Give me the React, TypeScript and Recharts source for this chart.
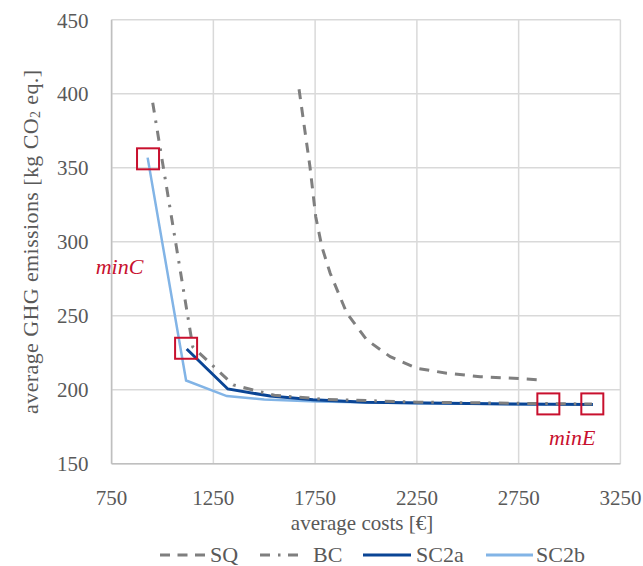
import React from "react";
import {
  ComposedChart,
  Line,
  Scatter,
  XAxis,
  YAxis,
  CartesianGrid,
  Legend,
  ReferenceDot,
} from "recharts";

const FONT = "'Liberation Serif', 'Times New Roman', serif";
const TEXT = "#595959";

const xTicks = [750, 1250, 1750, 2250, 2750, 3250];
const yTicks = [150, 200, 250, 300, 350, 400, 450];

const sqCost = [1671, 1725, 1753, 1783, 1824, 1906, 2004, 2119, 2250, 2397, 2561, 2725, 2856];
const sqGhg = [403, 350.3, 316.9, 296.6, 278.7, 251.6, 233.6, 222.3, 214.5, 211.1, 208.8, 207.7, 206.6];

const bcCost = [952, 1149, 1348, 1550, 1800, 2250, 2750, 3110];
const bcGhg = [393.9, 228.9, 203.2, 196.2, 193.5, 191.6, 190.8, 190.3];

const sc2aCost = [1119, 1321, 1529, 1740, 2000, 2500, 2900, 3115];
const sc2aGhg = [227.5, 200.5, 195.7, 193.2, 191.6, 190.6, 190.2, 190.0];

const sc2bCost = [927, 1116, 1316, 1500, 1758, 2250, 2889];
const sc2bGhg = [356.8, 206.2, 195.7, 193.4, 192.0, 190.8, 190.1];

const markCost = [929, 1116, 2896, 3112];
const markGhg = [356, 228, 190.4, 190.4];

const zip = (xs: number[], ys: number[]) => xs.map((x, i) => ({ x, y: ys[i] }));

const sqData = zip(sqCost, sqGhg);
const bcData = zip(bcCost, bcGhg);
const sc2aData = zip(sc2aCost, sc2aGhg);
const sc2bData = zip(sc2bCost, sc2bGhg);
const markData = zip(markCost, markGhg);

const SQ_COLOR = "#7f7f7f";
const BC_COLOR = "#7f7f7f";
const SC2A_COLOR = "#0a4595";
const SC2B_COLOR = "#82b4e6";
const RED = "#c8102e";

const SquareShape = (props: any) => {
  const { cx, cy } = props;
  if (cx == null || cy == null) return null;
  return (
    <rect x={cx - 11} y={cy - 10.5} width={22} height={21} fill="none" stroke={RED} strokeWidth={2} />
  );
};

const YTitle = (props: any) => {
  const vb = props.viewBox || {};
  const cx = (vb.x ?? 0) + 22;
  const cy = (vb.y ?? 0) + (vb.height ?? 0) / 2;
  return (
    <text
      x={cx}
      y={cy}
      transform={`rotate(-90 ${cx} ${cy})`}
      textAnchor="middle"
      dominantBaseline="central"
      fill={TEXT}
      fontFamily={FONT}
      fontSize={22}
      letterSpacing={0.4}
    >
      <tspan>average GHG emissions [kg CO</tspan>
      <tspan fontSize={14} dy={5}>2</tspan>
      <tspan dy={-5}> eq.]</tspan>
    </text>
  );
};

const XTitle = (props: any) => {
  const vb = props.viewBox || {};
  const cx = (vb.x ?? 0) + (vb.width ?? 0) / 2 - 4;
  const y = (vb.y ?? 0) + 66;
  return (
    <text x={cx} y={y} textAnchor="middle" fill={TEXT} fontFamily={FONT} fontSize={21}>
      average costs [€]
    </text>
  );
};

const makeLabel = (txt: string) => (props: any) => {
  const { cx, cy } = props;
  if (cx == null || cy == null) return null;
  return (
    <text
      x={cx}
      y={cy}
      textAnchor="middle"
      dominantBaseline="central"
      fill={RED}
      fontFamily={FONT}
      fontStyle="italic"
      fontSize={22}
    >
      {txt}
    </text>
  );
};

const LegendContent = () => (
  <svg width={635} height={28} style={{ display: "block", overflow: "visible" }}>
    <line x1={152} x2={197} y1={17} y2={17} stroke={SQ_COLOR} strokeWidth={3} strokeDasharray="10 7.5" />
    <text x={202} y={24} fill={TEXT} fontFamily={FONT} fontSize={22}>SQ</text>
    <line x1={252} x2={290} y1={17} y2={17} stroke={BC_COLOR} strokeWidth={3} strokeDasharray="10 8 2.5 7.5" />
    <text x={305} y={24} fill={TEXT} fontFamily={FONT} fontSize={22}>BC</text>
    <line x1={355} x2={403} y1={17} y2={17} stroke={SC2A_COLOR} strokeWidth={3} />
    <text x={408} y={24} fill={TEXT} fontFamily={FONT} fontSize={22}>SC2a</text>
    <line x1={478} x2={525} y1={17} y2={17} stroke={SC2B_COLOR} strokeWidth={3} />
    <text x={528} y={24} fill={TEXT} fontFamily={FONT} fontSize={22}>SC2b</text>
  </svg>
);

export default function App() {
  return (
    <div style={{ padding: "8px 0 0 8px", width: 635, height: 558 }}>
      <style>{"html,body{margin:0;padding:0;overflow:hidden;}"}</style>
      <ComposedChart
        width={635}
        height={558}
        margin={{ top: 11.7, right: 22.6, left: 0, bottom: 0 }}
        style={{ fontFamily: FONT }}
      >
        <CartesianGrid stroke="#d9d9d9" strokeWidth={1.5} />
        <XAxis
          type="number"
          dataKey="x"
          domain={[750, 3250]}
          ticks={xTicks}
          allowDataOverflow
          height={102.3}
          tickSize={0}
          tickMargin={26}
          axisLine={{ stroke: "#bfbfbf", strokeWidth: 1.5 }}
          tickLine={false}
          tick={{ fill: TEXT, fontSize: 21, fontFamily: FONT }}
          label={<XTitle />}
        />
        <YAxis
          type="number"
          dataKey="y"
          domain={[150, 450]}
          ticks={yTicks}
          allowDataOverflow
          width={103.6}
          tickSize={0}
          tickMargin={23}
          axisLine={{ stroke: "#bfbfbf", strokeWidth: 1.5 }}
          tickLine={false}
          tick={{ fill: TEXT, fontSize: 21, fontFamily: FONT }}
          label={<YTitle />}
        />
        <Line
          data={sqData}
          dataKey="y"
          type="linear"
          stroke={SQ_COLOR}
          strokeWidth={3}
          strokeDasharray="10 8"
          dot={false}
          activeDot={false}
          isAnimationActive={false}
          name="SQ"
        />
        <Line
          data={sc2bData}
          dataKey="y"
          type="linear"
          stroke={SC2B_COLOR}
          strokeWidth={2.5}
          dot={false}
          activeDot={false}
          isAnimationActive={false}
          name="SC2b"
        />
        <Line
          data={sc2aData}
          dataKey="y"
          type="linear"
          stroke={SC2A_COLOR}
          strokeWidth={3}
          dot={false}
          activeDot={false}
          isAnimationActive={false}
          name="SC2a"
        />
        <Line
          data={bcData}
          dataKey="y"
          type="linear"
          stroke={BC_COLOR}
          strokeWidth={3}
          strokeDasharray="10 8 2.5 8"
          dot={false}
          activeDot={false}
          isAnimationActive={false}
          name="BC"
        />
        <Scatter data={markData} dataKey="y" shape={<SquareShape />} isAnimationActive={false} legendType="none" />
        <ReferenceDot x={789} y={283} r={0} shape={makeLabel("minC")} ifOverflow="visible" />
        <ReferenceDot x={3013} y={167.4} r={0} shape={makeLabel("minE")} ifOverflow="visible" />
        <Legend
          layout="vertical"
          align="center"
          verticalAlign="middle"
          wrapperStyle={{ top: 530, left: 0, bottom: "auto", width: 635, height: 28 }}
          content={() => <LegendContent />}
        />
      </ComposedChart>
    </div>
  );
}
